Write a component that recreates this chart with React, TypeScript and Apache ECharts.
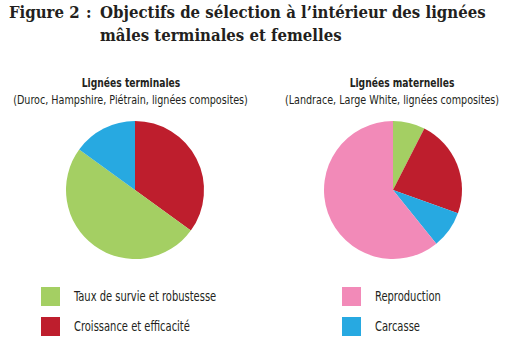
import React, { useEffect, useRef } from "react";
import * as echarts from "echarts";

const leftNames = ["Croissance et efficacité", "Taux de survie et robustesse", "Carcasse"];
const leftValues = [35, 50, 15];
const rightNames = ["Taux de survie et robustesse", "Croissance et efficacité", "Carcasse", "Reproduction"];
const rightValues = [7.5, 23, 8.7, 60.8];
const colorMap: Record<string, string> = {
  "Taux de survie et robustesse": "#a4cf63",
  "Croissance et efficacité": "#be1e2d",
  "Carcasse": "#27a9e1",
  "Reproduction": "#f28ab8",
};
const legendLeft = ["Taux de survie et robustesse", "Croissance et efficacité"];
const legendRight = ["Reproduction", "Carcasse"];

const SANS = "'DejaVu Sans Condensed', 'Roboto', sans-serif";
const SERIF = "'DejaVu Serif', 'Liberation Serif', serif";
const INK = "#231f20";

export default function App() {
  const ref = useRef<HTMLDivElement>(null);
  useEffect(() => {
    if (!ref.current) return;
    const chart = echarts.init(ref.current, undefined, { renderer: "svg" });
    const mk = (names: string[], vals: number[]) =>
      names.map((n, i) => ({ name: n, value: vals[i], itemStyle: { color: colorMap[n] } }));

    const legendGraphics: any[] = [];
    const addLegend = (names: string[], x0: number) => {
      names.forEach((n, i) => {
        const y0 = 287 + i * 30;
        legendGraphics.push({
          type: "rect",
          shape: { x: x0, y: y0, width: 19, height: 19 },
          style: { fill: colorMap[n] },
          silent: true,
        });
        legendGraphics.push({
          type: "text",
          x: x0 + 33,
          y: y0 + 10,
          scaleX: 0.82,
          style: { text: n, font: `13.5px ${SANS}`, fill: INK, verticalAlign: "middle" },
          silent: true,
        });
      });
    };
    addLegend(legendLeft, 41);
    addLegend(legendRight, 342);

    const titleFont = `bold 17px ${SERIF}`;
    chart.setOption({
      animation: false,
      graphic: [
        { type: "text", x: 9, y: 4, scaleX: 0.88, style: { text: "Figure 2", font: titleFont, fill: INK } },
        { type: "text", x: 86, y: 4, scaleX: 0.88, style: { text: ":", font: titleFont, fill: INK } },
        { type: "text", x: 100, y: 4, scaleX: 0.88, style: { text: "Objectifs de sélection à l’intérieur des lignées", font: titleFont, fill: INK } },
        { type: "text", x: 100, y: 27, scaleX: 0.88, style: { text: "mâles terminales et femelles", font: titleFont, fill: INK } },
        { type: "text", x: 131, y: 77, scaleX: 0.85, style: { text: "Lignées terminales", font: `bold 12px ${SANS}`, fill: INK, align: "center" } },
        { type: "text", x: 130.5, y: 94, scaleX: 0.89, style: { text: "(Duroc, Hampshire, Piétrain, lignées composites)", font: `12px ${SANS}`, fill: INK, align: "center" } },
        { type: "text", x: 402, y: 77, scaleX: 0.85, style: { text: "Lignées maternelles", font: `bold 12px ${SANS}`, fill: INK, align: "center" } },
        { type: "text", x: 392, y: 94, scaleX: 0.89, style: { text: "(Landrace, Large White, lignées composites)", font: `12px ${SANS}`, fill: INK, align: "center" } },
        ...legendGraphics,
      ],
      series: [
        {
          type: "pie",
          center: [135, 190],
          radius: 69,
          startAngle: 90,
          label: { show: false },
          labelLine: { show: false },
          emphasis: { disabled: true },
          silent: true,
          data: mk(leftNames, leftValues),
        },
        {
          type: "pie",
          center: [393, 190],
          radius: 69,
          startAngle: 90,
          label: { show: false },
          labelLine: { show: false },
          emphasis: { disabled: true },
          silent: true,
          data: mk(rightNames, rightValues),
        },
      ],
    });
    return () => chart.dispose();
  }, []);
  return (
    <div
      ref={ref}
      style={{ position: "fixed", left: 0, top: 0, width: 515, height: 356, background: "#fff" }}
    />
  );
}
